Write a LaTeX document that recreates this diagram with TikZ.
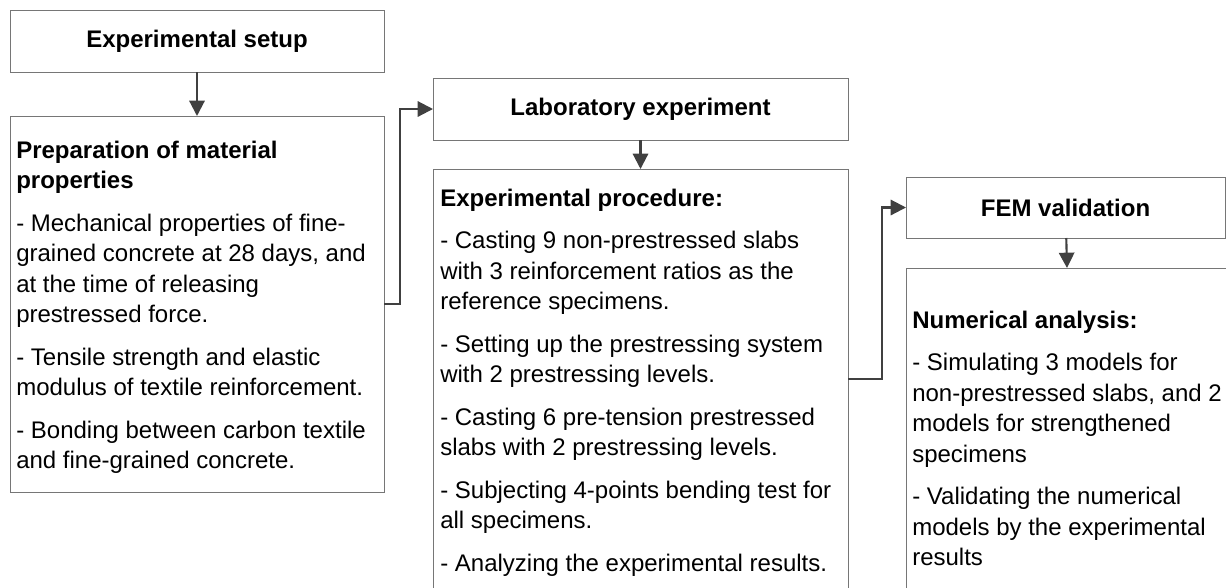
\documentclass[tikz,border=0pt]{standalone}
\usepackage{fontspec}
\setmainfont{Liberation Sans}
\usetikzlibrary{arrows.meta}

\definecolor{boxline}{RGB}{118,118,118}
\definecolor{arrowline}{RGB}{64,64,64}

\tikzset{
  titlebox/.style={draw=boxline, line width=0.75pt, anchor=north west, inner sep=0pt, outer sep=0pt, align=center, font=\fontsize{18}{22}\selectfont\bfseries},
  textbox/.style={draw=boxline, line width=0.75pt, anchor=north west, inner sep=0pt, outer sep=0pt},
  boxtext/.style={anchor=north west, inner sep=0pt, align=left, font=\fontsize{18}{22.9}\selectfont},
  conn/.style={draw=arrowline, line width=1.6pt, -{Triangle[length=11.5pt,width=11.5pt]}}
}

\begin{document}
\begin{tikzpicture}[x=0.75pt,y=0.75pt,yscale=-1,xscale=1]
\useasboundingbox (0,0) rectangle (1226,587);

%Shape: Rectangle [setup]
\node[titlebox, minimum width=280.5pt, minimum height=46.5pt] (setup) at (10,10) {Experimental setup};
%Shape: Rectangle [prep]
\node[textbox, minimum width=280.5pt, minimum height=282pt] (prep) at (10,116) {};
%Shape: Rectangle [lab]
\node[titlebox, minimum width=311.25pt, minimum height=46.5pt] (lab) at (433,78) {Laboratory experiment};
%Shape: Rectangle [proc]
\node[textbox, minimum width=311.25pt, minimum height=315pt] (proc) at (433,169) {};
%Shape: Rectangle [fem]
\node[titlebox, minimum width=239.25pt, minimum height=45.75pt] (fem) at (906,177) {FEM validation};
%Shape: Rectangle [num]
\node[textbox, minimum width=247.5pt, minimum height=240.75pt] (num) at (906,268) {};

% Text Node
\node[boxtext] (preptext) at ([shift={(6,24.5)}]prep.north west) {\textbf{Preparation of material}\\
\textbf{properties}\\[9pt]
- Mechanical properties of fine-\\
grained concrete at 28 days, and\\
at the time of releasing\\
prestressed force.\\[9pt]
- Tensile strength and elastic\\
modulus of textile reinforcement.\\[9pt]
- Bonding between carbon textile\\
and fine-grained concrete.};
% Text Node
\node[boxtext] (proctext) at ([shift={(7,19.5)}]proc.north west) {\textbf{Experimental procedure:}\\[9pt]
- Casting 9 non-prestressed slabs\\
with 3 reinforcement ratios as the\\
reference specimens.\\[9pt]
- Setting up the prestressing system\\
with 2 prestressing levels.\\[9pt]
- Casting 6 pre-tension prestressed\\
slabs with 2 prestressing levels.\\[9pt]
- Subjecting 4-points bending test for\\
all specimens.\\[9pt]
- Analyzing the experimental results.};
% Text Node
\node[boxtext] (numtext) at ([shift={(6,42.5)}]num.north west) {\textbf{Numerical analysis:}\\[9pt]
- Simulating 3 models for\\
non-prestressed slabs, and 2\\
models for strengthened\\
specimens\\[9pt]
- Validating the numerical\\
models by the experimental\\
results};

%Connectors
\draw[conn] (setup) -- (prep);
\draw[conn] (prep.east) -- ++(16,0) |- (lab.west);
\draw[conn] (lab) -- (proc);
\draw[conn] (proc.east) -- ++(34,0) |- (fem.west);
\draw[conn] (fem) -- (num);
\end{tikzpicture}
\end{document}
